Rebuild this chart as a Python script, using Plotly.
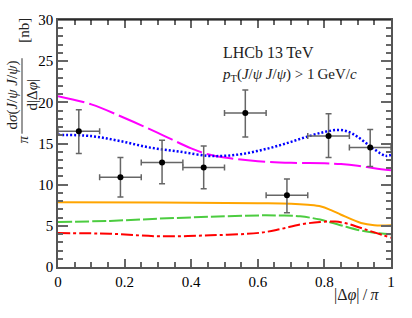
import plotly.graph_objects as go

# ---- data ----
data_x = [0.0625, 0.1875, 0.3125, 0.4375, 0.5625, 0.6875, 0.8125, 0.9375]
data_y = [16.5, 10.9, 12.7, 12.1, 18.7, 8.7, 15.9, 14.5]
data_err_up = [2.6, 2.4, 2.7, 2.6, 2.8, 2.0, 2.7, 2.2]
data_err_dn = [2.7, 2.4, 2.6, 2.6, 2.9, 2.1, 2.6, 2.3]
data_xerr = [0.0625] * 8

magenta_x = [0, 0.1, 0.2, 0.3, 0.4, 0.45, 0.5, 0.6, 0.7, 0.8, 0.85, 0.9, 0.95, 1.0]
magenta_y = [20.75, 19.75, 18.1, 16.3, 14.4, 13.7, 13.3, 12.85, 12.65, 12.6, 12.5, 12.3, 12.0, 11.75]

blue_x = [0, 0.1, 0.186, 0.277, 0.367, 0.45, 0.5, 0.55, 0.6, 0.65, 0.7, 0.75, 0.8, 0.84, 0.87, 0.9, 0.94, 0.97, 0.985, 1.0]
blue_y = [16.05, 15.9, 15.3, 14.5, 14.0, 13.5, 13.5, 13.7, 14.1, 14.6, 15.2, 15.85, 16.4, 16.65, 16.45, 15.8, 14.6, 13.75, 13.5, 13.6]

orange_x = [0, 0.3, 0.6, 0.7, 0.75, 0.79, 0.82, 0.85, 0.91, 0.95, 1.0]
orange_y = [7.86, 7.82, 7.74, 7.68, 7.55, 7.35, 6.9, 6.35, 5.35, 5.08, 5.08]

green_x = [0, 0.156, 0.306, 0.457, 0.607, 0.667, 0.727, 0.787, 0.848, 0.908, 0.95, 1.0]
green_y = [5.47, 5.6, 5.88, 6.1, 6.27, 6.25, 6.15, 5.76, 5.08, 4.44, 4.15, 3.97]

red_x = [0, 0.156, 0.306, 0.457, 0.607, 0.667, 0.727, 0.787, 0.832, 0.87, 0.908, 0.95, 1.0]
red_y = [4.12, 4.04, 3.73, 3.85, 4.16, 4.6, 5.16, 5.47, 5.52, 5.25, 4.76, 4.2, 3.56]

x_ticks = [0, 0.2, 0.4, 0.6, 0.8, 1]
x_ticklabels = ["0", "0.2", "0.4", "0.6", "0.8", "1"]
y_ticks = [0, 5, 10, 15, 20, 25, 30]
y_ticklabels = ["0", "5", "10", "15", "20", "25", "30"]

W, H = 412, 318
L, R, T, B = 58, 21, 15, 51
PW, PH = W - L - R, H - T - B

def px(xp):
    return (xp - L) / PW

def py(yp):
    return (H - B - yp) / PH

FONT = "'Liberation Serif', 'DejaVu Serif', serif"

fig = go.Figure()

fig.add_trace(go.Scatter(x=magenta_x, y=magenta_y, mode="lines", line=dict(color="#ff00ff", width=2, dash="27px,5px", shape="spline"), hoverinfo="skip"))
fig.add_trace(go.Scatter(x=blue_x, y=blue_y, mode="lines", line=dict(color="#0000ff", width=2.5, dash="2px,2px", shape="spline"), hoverinfo="skip"))
fig.add_trace(go.Scatter(x=orange_x, y=orange_y, mode="lines", line=dict(color="#ffa500", width=2, shape="spline"), hoverinfo="skip"))
fig.add_trace(go.Scatter(x=green_x, y=green_y, mode="lines", line=dict(color="#4ccc40", width=2, dash="14px,3px", shape="spline"), hoverinfo="skip"))
fig.add_trace(go.Scatter(x=red_x, y=red_y, mode="lines", line=dict(color="#ff0000", width=2, dash="12px,3px,3px,3px", shape="spline"), hoverinfo="skip"))

fig.add_trace(go.Scatter(
    x=data_x, y=data_y, mode="markers",
    marker=dict(color="black", size=6),
    error_y=dict(type="data", symmetric=False, array=data_err_up, arrayminus=data_err_dn,
                 color="#666666", thickness=1.5, width=3),
    error_x=dict(type="data", array=data_xerr, color="#666666", thickness=1.5, width=3),
    hoverinfo="skip"))

axis_common = dict(
    showgrid=False, zeroline=False, showline=True, linecolor="#555555", linewidth=1.5,
    mirror="ticks", ticks="inside", tickcolor="#666666", tickwidth=1.5,
    tickfont=dict(family=FONT, size=15, color="black"),
)

fig.update_xaxes(range=[0, 1], tickvals=x_ticks, ticktext=x_ticklabels, ticklen=8,
                 minor=dict(dtick=0.05, ticks="inside", ticklen=5, tickcolor="#666666", tickwidth=1.5),
                 **axis_common)
fig.update_yaxes(range=[0, 30], tickvals=y_ticks, ticktext=y_ticklabels, ticklen=10,
                 minor=dict(dtick=1, ticks="inside", ticklen=5, tickcolor="#666666", tickwidth=1.5),
                 **axis_common)

ann = []
ann.append(dict(text="LHCb 13\u2009TeV", x=px(221), y=py(48), xref="paper", yref="paper",
                xanchor="left", yanchor="middle", showarrow=False,
                font=dict(family=FONT, size=16, color="#222")))
ann.append(dict(text="<i>p</i><sub>T</sub>(<i>J</i>/<i>ψ</i> <i>J</i>/<i>ψ</i>) > 1\u2009GeV/<i>c</i>",
                x=px(220), y=py(71), xref="paper", yref="paper",
                xanchor="left", yanchor="middle", showarrow=False,
                font=dict(family=FONT, size=15, color="#222")))
ann.append(dict(text="|Δ<i>φ</i>|\u2009/\u2009<i>π</i>", x=px(381), y=py(296), xref="paper", yref="paper",
                xanchor="right", yanchor="middle", showarrow=False,
                font=dict(family=FONT, size=16, color="#222")))
# y-axis title pieces (rotated)
ann.append(dict(text="[nb]", x=px(24), y=py(26), xref="paper", yref="paper", textangle=-90,
                xanchor="center", yanchor="middle", showarrow=False,
                font=dict(family=FONT, size=15, color="#222")))
ann.append(dict(text="d<i>σ</i>(<i>J</i>/<i>ψ</i> <i>J</i>/<i>ψ</i>)", x=px(12), y=py(92), xref="paper", yref="paper",
                textangle=-90, xanchor="center", yanchor="middle", showarrow=False,
                font=dict(family=FONT, size=15, color="#222")))
ann.append(dict(text="d|Δ<i>φ</i>|", x=px(32), y=py(92), xref="paper", yref="paper",
                textangle=-90, xanchor="center", yanchor="middle", showarrow=False,
                font=dict(family=FONT, size=15, color="#222")))
ann.append(dict(text="<i>π</i>", x=px(23), y=py(137), xref="paper", yref="paper",
                textangle=-90, xanchor="center", yanchor="middle", showarrow=False,
                font=dict(family=FONT, size=15, color="#222")))

shapes = [
    dict(type="line", xref="paper", yref="paper", x0=px(22), x1=px(22), y0=py(54), y1=py(131),
         line=dict(color="#333", width=1)),
    dict(type="line", xref="paper", yref="paper", x0=0, x1=1, y0=1, y1=1,
         line=dict(color="black", width=1.2)),
]

fig.update_layout(
    width=W, height=H, margin=dict(l=L, r=R, t=T, b=B, pad=0),
    paper_bgcolor="white", plot_bgcolor="white", showlegend=False,
    annotations=ann, shapes=shapes,
)

fig.write_html("out.html", config={"displayModeBar": False},
               post_script="document.body.style.margin='0';")
